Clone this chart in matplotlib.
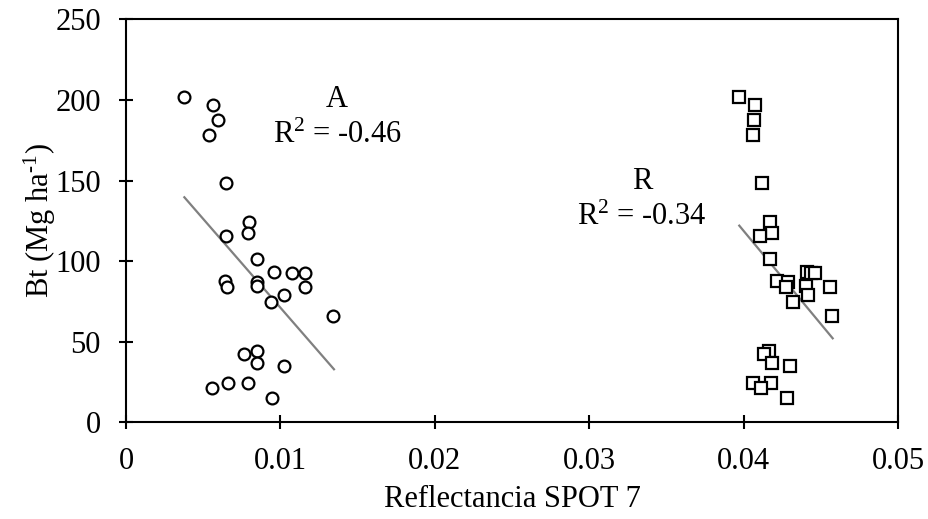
import matplotlib
matplotlib.use('Agg')
import matplotlib.pyplot as plt
from matplotlib.ticker import FuncFormatter

plt.rcParams['font.family'] = ['Liberation Serif', 'DejaVu Serif']
plt.rcParams['mathtext.fontset'] = 'custom'
plt.rcParams['mathtext.rm'] = 'Liberation Serif'
plt.rcParams['mathtext.it'] = 'Liberation Serif:italic'

# biomass (Mg/ha), shared by both bands
bt = [201.6, 196.8, 187.3, 178.2, 148.4, 124.4, 117.2, 115.8, 101.1, 93.4,
      92.8, 92.4, 87.8, 87.2, 84.7, 84.1, 84.1, 79.0, 74.8, 65.9,
      44.2, 42.2, 37.0, 34.9, 24.6, 24.6, 21.1, 15.3]

# reflectance, band A (circles)
refl_a = [0.00378, 0.00565, 0.00594, 0.00536, 0.00646, 0.00797, 0.00790, 0.00646, 0.00850, 0.00961,
          0.01077, 0.01159, 0.00641, 0.00850, 0.00850, 0.00652, 0.01159, 0.01023, 0.00937, 0.01343,
          0.00850, 0.00764, 0.00850, 0.01023, 0.00661, 0.00790, 0.00559, 0.00948]

# reflectance, band R (squares)
refl_r = [0.03972, 0.04076, 0.04069, 0.04059, 0.04121, 0.04169, 0.04184, 0.04106, 0.04173, 0.04413,
          0.04437, 0.04462, 0.04214, 0.04290, 0.04404, 0.04275, 0.04560, 0.04419, 0.04322, 0.04571,
          0.04166, 0.04134, 0.04186, 0.04301, 0.04063, 0.04177, 0.04113, 0.04279]

# trend line end points
trend_a_x = [0.00378, 0.01347]
trend_a_y = [139.6, 32.9]
trend_r_x = [0.03972, 0.04577]
trend_r_y = [122.0, 52.1]

xticks = [0, 0.01, 0.02, 0.03, 0.04, 0.05]
yticks = [0, 50, 100, 150, 200, 250]

fs = 22

fig = plt.figure(figsize=(9.29, 5.19), dpi=100)
ax = fig.add_axes([126 / 929, 1 - 422.3 / 519, (898 - 126) / 929, (422.3 - 19.3) / 519])

ax.plot(refl_a, bt, 'o', ms=8.5, mfc='white', mec='black', mew=1.6, zorder=3)
ax.plot(refl_r, bt, 's', ms=8.5, mfc='white', mec='black', mew=1.6, zorder=3)
ax.plot(trend_a_x, trend_a_y, color='#808080', lw=1.6, zorder=2)
ax.plot(trend_r_x, trend_r_y, color='#808080', lw=1.6, zorder=2)

ax.text(0.01367, 189.0, 'A\nR$^{2}$ = -0.46', ha='center', va='center',
        multialignment='center', fontsize=fs, linespacing=1.3)
ax.text(0.03342, 138.0, 'R\nR$^{2}$ = -0.34', ha='center', va='center',
        multialignment='center', fontsize=fs, linespacing=1.3)

ax.set_xlim(0, 0.05)
ax.set_ylim(0, 250)
ax.set_xticks(xticks)
ax.set_yticks(yticks)
ax.xaxis.set_major_formatter(FuncFormatter(lambda v, p: '0' if v == 0 else '%.2f' % v))
ax.tick_params(direction='inout', length=10, width=1.5, labelsize=fs, pad=13)

for s in ax.spines.values():
    s.set_linewidth(1.5)

ax.set_xlabel('Reflectancia SPOT 7', fontsize=fs, labelpad=6)
ax.set_ylabel('Bt (Mg ha$^{\\text{-1}}$)', fontsize=fs, labelpad=-2)

fig.savefig('out.png', dpi=100)
